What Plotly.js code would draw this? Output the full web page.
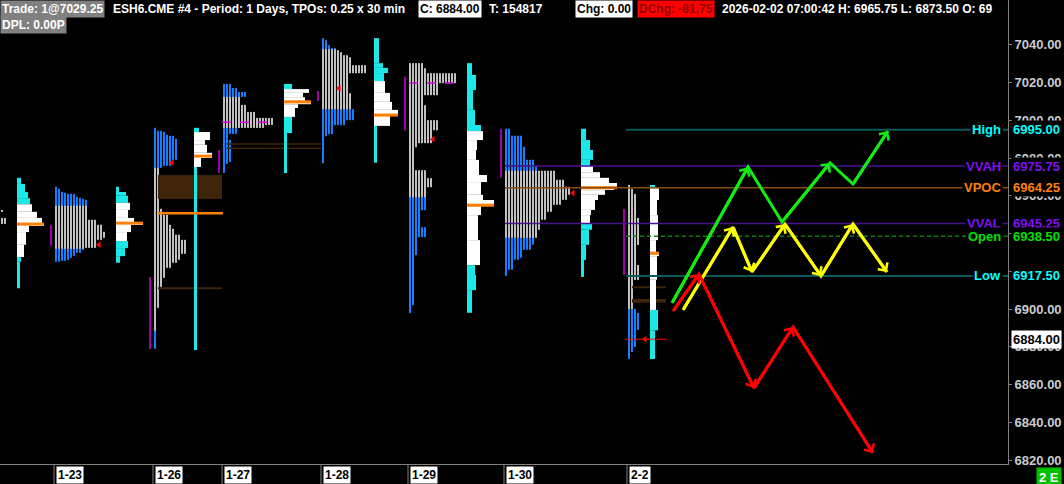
<!DOCTYPE html>
<html><head><meta charset="utf-8">
<script src="https://cdn.plot.ly/plotly-3.0.1.min.js"></script>
<style>html,body{margin:0;padding:0;background:#000;}#chart{width:1064px;height:484px;}</style>
</head><body><div id="chart"></div>
<script>
// ================= DATA =================
const dates = ['1-23','1-26','1-27','1-28','1-29','1-30','2-2'];
const yTicks = [6820,6840,6860,6880,6900,6920,6940,6960,6980,7000,7020,7040];
// tick labels fully hidden behind the level labels in the reference
const hiddenTickLabels = [6920, 6940];

// TPO profiles: [topPrice, bottomPrice, tpoCount]
const tpo122 = [[6952.5,6951.5,1],[6948.25,6945,2]];
const tpo123 = [[6964.75,6963.5,1],[6963.5,6962,2],[6962,6961.5,3],[6961.5,6961,4],[6961,6959.25,7],[6959.25,6958.75,8],[6958.75,6958.25,9],[6958.25,6957.75,10],[6957.75,6947.25,11],[6947.25,6944.5,14],[6944.5,6940.75,16],[6940.75,6938,17],[6938,6936.5,16],[6936.5,6932.25,14],[6932.25,6931.25,10],[6931.25,6929.75,9],[6929.75,6928,7],[6928,6927,6],[6927,6926,5],[6926,6925.5,4],[6925.5,6925,2]];
const tpo126 = [[6996,6994.25,1],[6994.25,6993.75,3],[6993.75,6992.25,4],[6992.25,6991.75,5],[6991.75,6990,7],[6990,6979,8],[6979,6975.75,6],[6975.75,6974.75,3],[6974.75,6953,2],[6953,6949.75,3],[6949.75,6944.5,5],[6944.5,6942.5,6],[6942.5,6939.25,7],[6939.25,6936.5,9],[6936.5,6929,11],[6929,6926,9],[6926,6924.5,8],[6924.5,6921.75,6],[6921.75,6916.5,4],[6916.5,6911.75,3],[6911.75,6900.5,2],[6900.5,6878.75,1]];
const tpo127 = [[7019.25,7017,3],[7017,7015,5],[7015,7012.25,8],[7012.25,7008,6],[7008,7004.5,8],[7004.5,7001.25,11],[7001.25,6997.5,17],[6997.5,6996,14],[6996,6992.75,5],[6992.75,6989.5,2],[6989.5,6977.75,3],[6977.75,6976.75,2],[6976.75,6972,1]];
const tpo128 = [[7043.5,7042.5,1],[7042.5,7040,2],[7040,7038.25,3],[7038.25,7037.25,5],[7037.25,7036.25,6],[7036.25,7034.5,7],[7034.5,7033.5,9],[7033.5,7029.25,10],[7029.25,7025,15],[7025,7019.75,9],[7019.75,7014.5,9],[7014.5,7012.25,10],[7012.25,7006,10],[7006,7000,11],[7000,6997.5,8],[6997.5,6992.75,4],[6992.75,6991.75,2],[6991.75,6977.5,1]];
const tpo129 = [[7030.25,7027.75,5],[7027.75,7025,6],[7025,7019.75,16],[7019.75,7013.5,10],[7013.5,7008,5],[7008,7000,6],[7000,6994.75,10],[6994.75,6988,8],[6988,6985.75,3],[6985.75,6973.5,2],[6973.5,6969.5,6],[6969.5,6964.75,8],[6964.75,6959.25,6],[6959.25,6952.5,6],[6952.5,6943.5,4],[6943.5,6938,6],[6938,6928.5,3],[6928.5,6902,2],[6902,6898,1]];
const tpo130 = [[6995.5,6991.75,2],[6991.75,6985.75,6],[6985.75,6979,7],[6979,6975.75,10],[6975.75,6973.5,11],[6973.5,6968.25,17],[6968.25,6964.75,20],[6964.75,6960.5,22],[6960.5,6957.75,21],[6957.75,6955,19],[6955,6951.5,16],[6951.5,6947.25,14],[6947.25,6942,12],[6942,6938,11],[6938,6934,10],[6934,6931.25,9],[6931.25,6927,6],[6927,6926,5],[6926,6920.75,3],[6920.75,6917.5,1]];
const tpo202 = [[6965.75,6963.5,1],[6963.5,6961,2],[6961,6948.25,3],[6948.25,6934,4],[6934,6923.25,3],[6923.25,6915.5,4],[6915.5,6900,2],[6900,6898,3],[6898,6888.75,4],[6888.75,6880,3],[6880,6877.25,2],[6877.25,6873.5,1]];
// TPO value area (gray inside, blue outside)
const tpoVAH = [7100, 6954.5, 6974.75, 7012.25, 7037.75, 7100, 6973.5, 7100];
const tpoVAL = [6800, 6931.75, 6888.25, 6996, 7006, 6959.25, 6938, 6900];

// Volume profiles: [topPrice, bottomPrice, volume]
const vp122 = [[6969.5,6966.25,4],[6966.25,6962,8],[6962,6958.75,11],[6958.75,6955.5,13],[6955.5,6951.5,15],[6951.5,6948.25,20],[6948.25,6945.5,25],[6945.5,6944,27],[6944,6940.75,12],[6940.75,6934,9],[6934,6927.5,7],[6927.5,6925,4],[6925,6911,3]];
const vp123 = [[6964.75,6962,3],[6962,6960,10],[6960,6956.25,12],[6956.25,6952.5,14],[6952.5,6948.25,12],[6948.25,6946,18],[6946,6944.5,27],[6944.5,6940.75,15],[6940.75,6936,11],[6936,6932.25,12],[6932.25,6928,9],[6928,6924.5,4]];
const vp126 = [[6996,6993.75,5],[6993.75,6989.5,16],[6989.5,6987,11],[6987,6982.75,13],[6982.75,6980,18],[6980,6975.25,7],[6975.25,6878.25,3]];
const vp127 = [[7019.25,7016.5,8],[7016.5,7014.5,25],[7014.5,7012.25,19],[7012.25,7010.25,21],[7010.25,7008.5,27],[7008.5,7006.5,14],[7006.5,7001.75,11],[7001.75,6993.25,8],[6993.25,6972,3]];
const vp128 = [[7043.5,7030.25,5],[7030.25,7027.75,9],[7027.75,7025,14],[7025,7020.75,10],[7020.75,7014.5,11],[7014.5,7009.75,16],[7009.75,7005.5,18],[7005.5,7002.25,24],[7002.25,6997,16],[6997,6977.5,3]];
const vp129 = [[7030.25,7024,5],[7024,7016,9],[7016,7005.5,6],[7005.5,6997.5,8],[6997.5,6994.25,14],[6994.25,6989.5,16],[6989.5,6984.25,10],[6984.25,6979,9],[6979,6971,12],[6971,6967.25,20],[6967.25,6960.5,14],[6960.5,6957.75,16],[6957.75,6954.5,27],[6954.5,6949.75,14],[6949.75,6936.5,11],[6936.5,6923.25,13],[6923.25,6918,8],[6918,6910,9],[6910,6898,5]];
const vp130 = [[6995.5,6989.5,5],[6989.5,6984.25,9],[6984.25,6979,12],[6979,6975.75,9],[6975.75,6972.5,12],[6972.5,6969.5,19],[6969.5,6966.75,28],[6966.75,6964.75,36],[6964.75,6963,33],[6963,6960.5,24],[6960.5,6957.75,17],[6957.75,6952.5,14],[6952.5,6949.75,10],[6949.75,6945.25,9],[6945.25,6942,11],[6942,6934,8],[6934,6926,5],[6926,6917,3]];
const vp202 = [[6965.75,6964,5],[6964,6957.75,9],[6957.75,6949.75,7],[6949.75,6936.5,8],[6936.5,6930.25,6],[6930.25,6928,9],[6928,6915.5,7],[6915.5,6899.5,6],[6899.5,6888.75,8],[6888.75,6873.5,5]];
const vpVAH = [6955.5, 6956.25, 6993.75, 7016.5, 7020.75, 6994.25, 6975.75, 6964];
const vpVAL = [6927.5, 6936, 6975.25, 7001.75, 6997, 6923.25, 6945.25, 6899.5];
const vpPOC = [6945, 6945.5, 6981, 7009.75, 7002.75, 6955, 6964.25, 6929.5];

// Reference levels (right side)
const levelNames  = ['High','VVAH','VPOC','VVAL','Open','Low'];
const levelPrices = [6995.00, 6975.75, 6964.25, 6945.25, 6938.50, 6917.50];
const lastPrice = 6884.00;

// Single prints / extensions (brown) : [top, bottom]
const brownTop = [6971, 6911.5, 6987.75, 6985.5, 6912, 6905.25];
const brownBot = [6958.25, 6910.5, 6987, 6984.75, 6911, 6903.25];
// Initial balance ranges (magenta): [high, low]
const ibHigh = [6944.5, 6917, 6984.25, 7015.5, 7023, 6995.5, 6953];
const ibLow  = [6933.5, 6878.75, 6972, 7010.25, 6994.75, 6969.5, 6918];
// Close markers
const closePrices = [6934, 6977.5, 7017, 6990, 6961.5, 6884];
// Mid-range dashed lines
const midPrices = [6999, 7019.75];
// TPO POC extension (1-26)
const tpoPocExt = 6950.75;

// Scenario arrows (price paths)
const greenPath  = [6903.2, 6975.2, 6946.1, 6977.4, 6966.2, 6994.3];
const yellowPath = [6899.5, 6943.4, 6919.6, 6945.0, 6917.5, 6945.0, 6919.6];
const redPath    = [6898.9, 6918.5, 6858.1, 6890.5, 6823.7];
const greenHeads = [1,3,5], yellowHeads = [1,2,3,4,5,6], redHeads = [1,2,3,4];

// ================= LAYOUT (pixel-based bar slots) =================
const PW = 1008, PH = 464;
const tpoLeft = [1, 55, 154, 223, 322, 409, 505, 628];
const vpLeft  = [17, 116, 194, 284, 374, 467, 581, 650];
const brownX  = [[158,222],[158,222],[227,321],[227,321],[632,666],[632,666]];
const ibX     = [51, 150, 219, 318, 405, 501, 624];
const closeX  = [99, 172, 339, 433, 573, 645];
const midX    = [[222,275],[409,459]];
const tpoPocX = [158, 223];
const levelStart = [626, 505, 505, 505, 626, 626];
const greenX  = [672, 748, 782, 830, 853, 888];
const yellowX = [683, 733, 752, 785, 821, 853, 887];
const redX    = [673, 699, 754, 793, 873];

const GRAY='#c0c0c0', BLUE='#1580ff', CYAN='#1de8e8', WHITE='#ffffff', ORANGE='#ff8000', BROWN='#3e2408';
const FONT='Liberation Sans, Arial, sans-serif';

const tpos = [tpo122,tpo123,tpo126,tpo127,tpo128,tpo129,tpo130,tpo202];
const vps  = [vp122,vp123,vp126,vp127,vp128,vp129,vp130,vp202];

const traces = [];
// TPO heatmaps
tpos.forEach((segs, d) => {
  const top = Math.max(...segs.map(s=>s[0])), bot = Math.min(...segs.map(s=>s[1]));
  const step = 0.25, nRows = Math.round((top-bot)/step);
  const maxN = Math.max(...segs.map(s=>s[2]));
  const y=[], z=[], x=[];
  for (let c=0;c<maxN;c++) x.push(tpoLeft[d] + 3*c + 1.5);
  for (let i=0;i<nRows;i++){
    const yc = top - step*(i+0.5);
    const seg = segs.find(s => yc < s[0] && yc > s[1]);
    const n = seg ? seg[2] : 0;
    const blue = yc > tpoVAH[d] || yc < tpoVAL[d];
    y.push(yc);
    const row=[];
    for (let c=0;c<maxN;c++) row.push(c<n ? (blue?2:1) : null);
    z.push(row);
  }
  traces.push({type:'heatmap', x, y, z, xgap:1, ygap:0, zmin:0.5, zmax:2.5,
    colorscale:[[0,GRAY],[0.5,GRAY],[0.5,BLUE],[1,BLUE]], showscale:false, hoverinfo:'skip'});
});
// brown single-print boxes
traces.push({type:'bar', orientation:'h',
  y: brownTop.map((t,i)=>(t+brownBot[i])/2), width: brownTop.map((t,i)=>t-brownBot[i]),
  x: brownX.map(b=>b[1]-b[0]), base: brownX.map(b=>b[0]),
  marker:{color:BROWN, line:{width:0}}, hoverinfo:'skip'});
// volume profiles
vps.forEach((segs, d) => {
  traces.push({type:'bar', orientation:'h',
    y: segs.map(s=>(s[0]+s[1])/2), width: segs.map(s=>s[0]-s[1]),
    x: segs.map(s=>s[2]), base: segs.map(()=>vpLeft[d]),
    marker:{color: segs.map(s=>{const m=(s[0]+s[1])/2; return (m<vpVAH[d] && m>vpVAL[d])?WHITE:CYAN;}), line:{width:0}},
    hoverinfo:'skip'});
});
// volume POC bars
traces.push({type:'bar', orientation:'h', y: vpPOC, width: vpPOC.map(()=>1.6),
  x: vps.map(s=>Math.max(...s.map(r=>r[2]))), base: vpLeft,
  marker:{color:ORANGE, line:{width:0}}, hoverinfo:'skip'});
traces.push({type:'bar', orientation:'h', y:[tpoPocExt], width:[1.4],
  x:[tpoPocX[1]-tpoPocX[0]], base:[tpoPocX[0]], marker:{color:ORANGE, line:{width:0}}, hoverinfo:'skip'});

function segLine(xs, ys, color, width, dash){
  return {type:'scatter', mode:'lines', x:xs, y:ys, line:{color, width, dash:dash||'solid'}, hoverinfo:'skip', connectgaps:false};
}
// IB magenta lines
{ const xs=[], ys=[]; ibX.forEach((x,i)=>{xs.push(x,x,null); ys.push(ibHigh[i], ibLow[i], null);});
  traces.push(segLine(xs, ys, '#a000a8', 2)); }
// mid dashed magenta
{ const xs=[], ys=[]; midX.forEach((m,i)=>{xs.push(m[0],m[1],null); ys.push(midPrices[i],midPrices[i],null);});
  traces.push(segLine(xs, ys, '#e000e0', 1.5, 'dash')); }
// level lines
const levelLineColors = ['#0b5a5a','#4a1090','#8a4a10','#4a1090','#0e7a0e','#0b5a5a'];
const levelTextColors = ['#00ffff','#8010f0','#ff8000','#8010f0','#00e000','#00ffff'];
levelPrices.forEach((p,i)=>{
  traces.push(segLine([levelStart[i], PW], [p,p], levelLineColors[i], i===0||i===5?2:1.5, i===4?'4px,3px':'solid'));
});
// current price red line
traces.push(segLine([625,667],[lastPrice,lastPrice],'#ff0000',1));
// close markers
traces.push({type:'scatter', mode:'markers', x: closeX, y: closePrices,
  marker:{symbol:'triangle-left', size:6, color:'#ff0000'}, hoverinfo:'skip'});
// scenario paths
traces.push(segLine(greenX, greenPath, '#10ee10', 3));
traces.push(segLine(yellowX, yellowPath, '#ffff00', 3));
traces.push(segLine(redX, redPath, '#ff0000', 3));

const annotations = [];
function arrowHeads(xs, ys, heads, color){
  heads.forEach(h=>{
    annotations.push({x:xs[h], y:ys[h], ax:xs[h-1], ay:ys[h-1], xref:'x', yref:'y', axref:'x', ayref:'y',
      showarrow:true, arrowhead:4, arrowsize:0.75, arrowwidth:3, arrowcolor:color, standoff:0, text:''});
  });
}
arrowHeads(greenX, greenPath, greenHeads, '#10ee10');
arrowHeads(yellowX, yellowPath, yellowHeads, '#ffff00');
arrowHeads(redX, redPath, redHeads, '#ff0000');

function txt(text, xpx, ypx, color, bg, anchor){
  annotations.push({text, xref:'paper', yref:'paper', x:xpx/PW, y:1-ypx/PH, xanchor:anchor||'left', yanchor:'top',
    showarrow:false, bgcolor:bg||'rgba(0,0,0,0)', borderpad:1,
    font:{family:FONT, size:12, color, weight:'bold'}});
}
// header
txt('Trade: 1@7029.25', 0, 0, '#ffffff', '#808080');
txt('ESH6.CME #4 - Period: 1 Days, TPOs: 0.25 x 30 min', 111, 0, '#ffffff');
txt('C: 6884.00', 418, 0, '#000000', '#ffffff');
txt('T: 154817', 487, 0, '#ffffff');
txt('Chg: 0.00', 575, 0, '#000000', '#ffffff');
txt('DChg: -81.75', 637, 0, '#900000', '#ff0000');
txt('2026-02-02 07:00:42 H: 6965.75 L: 6873.50 O: 69', 720, 0, '#ffffff');
txt('DPL: 0.00P', 0, 16, '#ffffff', '#808080');
// date labels
dates.forEach((d,i)=> txt(d, tpoLeft[i+1]+1, 466, '#000000', '#ffffff'));
// level labels
levelNames.forEach((n,i)=>{
  annotations.push({text:n, xref:'paper', yref:'y', x:1003/PW, y:levelPrices[i], xanchor:'right', yanchor:'middle',
    showarrow:false, bgcolor:'#000000', borderpad:1, font:{family:FONT, size:13, color:levelTextColors[i], weight:'bold'}});
  annotations.push({text:levelPrices[i].toFixed(2), xref:'paper', yref:'y', x:1011/PW, y:levelPrices[i], xanchor:'left', yanchor:'middle',
    showarrow:false, bgcolor:'#000000', borderpad:1, font:{family:FONT, size:13, color:levelTextColors[i], weight:'bold'}});
});
annotations.push({text:lastPrice.toFixed(2), xref:'paper', yref:'y', x:1011/PW, y:lastPrice, xanchor:'left', yanchor:'middle',
  showarrow:false, bgcolor:'#ffffff', borderpad:1, font:{family:FONT, size:13, color:'#000000', weight:'bold'}});
annotations.push({text:'2 E', xref:'paper', yref:'paper', x:1062/PW, y:-3/PH, xanchor:'right', yanchor:'top',
  showarrow:false, bgcolor:'#00c000', borderpad:2, font:{family:FONT, size:13, color:'#ffffff', weight:'bold'}});

const shapes = tpoLeft.slice(1).map(x=>({type:'line', xref:'x', yref:'paper', x0:x-1, x1:x-1, y0:0, y1:-20/PH,
  line:{color:'#808080', width:1}}));

const pxPerPt = 1.8875;
const layout = {
  width:1064, height:484, margin:{l:0, r:56, t:0, b:20},
  paper_bgcolor:'#000', plot_bgcolor:'#000', showlegend:false, barmode:'overlay',
  xaxis:{range:[0,PW], showticklabels:false, showgrid:false, zeroline:false, showline:true, linecolor:'#808080', ticks:'', fixedrange:true},
  yaxis:{side:'right', range:[6900-155/pxPerPt, 6900+309/pxPerPt], tickvals:yTicks,
    ticktext:yTicks.map(v=>hiddenTickLabels.includes(v)?'':v.toFixed(2)),
    showgrid:false, zeroline:false, showline:true, linecolor:'#808080', ticks:'outside', ticklen:3, tickcolor:'#808080',
    tickfont:{family:FONT, size:13, color:'#c8ccd0', weight:'bold'}, fixedrange:true},
  annotations, shapes
};
Plotly.newPlot('chart', traces, layout, {staticPlot:true, displayModeBar:false});
</script></body></html>
